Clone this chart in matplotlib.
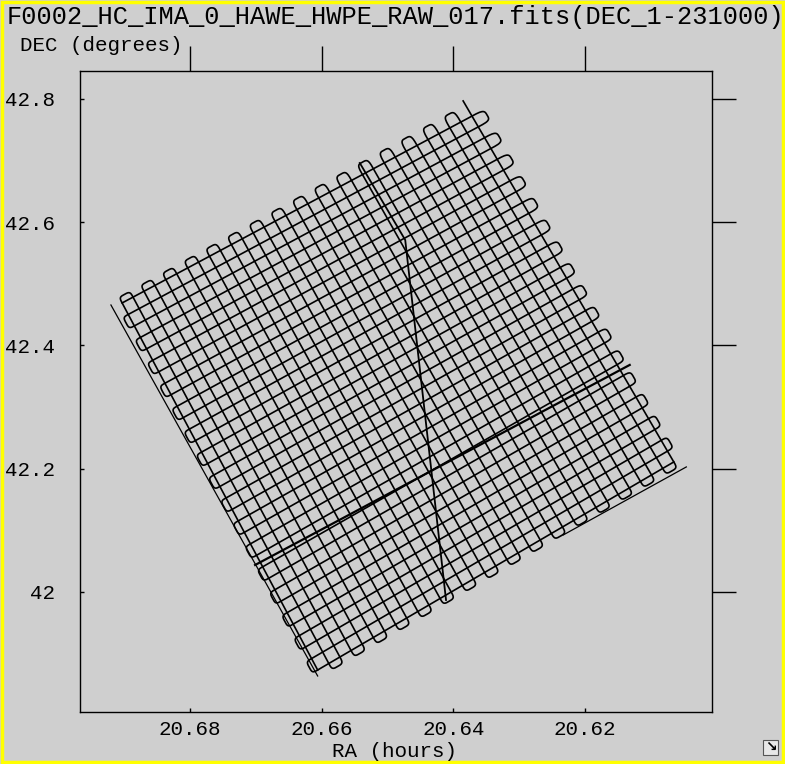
import numpy as np
import matplotlib.pyplot as plt
from matplotlib.patches import Rectangle

# scan box corners (RA hours, DEC degrees)
corner_tl = (20.6903, 42.4690)
corner_top = (20.6372, 42.7720)
corner_right = (20.6065, 42.2110)
corner_bottom = (20.6606, 41.8734)
first_b_start = (20.6385, 42.7968)   # free start of the first steep leg

# number of legs in each raster and turn-around sizes (fraction of leg length)
n_legs_a = 33          # shallow legs, turn at left / right side
n_legs_b = 33          # steep legs, turn at upper-left / lower-right side
turn_a_left = [0.015, 0.015]
turn_a_right = [0.035, 0.015]
turn_b_top = [0.015, 0.032]
turn_b_bottom = [0.017, 0.017]

# single straight tracks
outer_left_ra = [20.6920, 20.6606]
outer_left_dec = [42.4657, 41.8637]
outer_right_ra = [20.6046, 20.6233]
outer_right_dec = [42.2029, 42.0925]
mid_a_ra = [20.6701, 20.6132]
mid_a_dec = [42.0438, 42.3684]
mid_b_ra = [20.6542, 20.6473, 20.6411]
mid_b_dec = [42.6961, 42.5712, 41.9870]

ra_ticks = [20.68, 20.66, 20.64, 20.62]
dec_ticks = [42.0, 42.2, 42.4, 42.6, 42.8]
dec_labels = ["42", "42.2", "42.4", "42.6", "42.8"]

title = "F0002_HC_IMA_0_HAWE_HWPE_RAW_017.fits(DEC_1-231000)"


def cap(p, q, out, n=24):
    c = (p + q) / 2
    h = (q - p) / 2
    th = np.linspace(0, np.pi, n)
    f = np.sign(np.cos(th)) * np.abs(np.cos(th)) ** 0.5
    g = np.abs(np.sin(th)) ** 0.5
    return c[None, :] - f[:, None] * h[None, :] + g[:, None] * out[None, :]


def raster(s0, s1, e0, e1, n, ext_s, ext_e, first=None):
    s0, s1, e0, e1 = map(np.asarray, (s0, s1, e0, e1))
    t = np.linspace(0, 1, n)
    starts = s0 + t[:, None] * (s1 - s0)
    ends = e0 + t[:, None] * (e1 - e0)
    xs = np.interp(t, [0, 1], ext_s)
    xe = np.interp(t, [0, 1], ext_e)
    pts = []
    for i in range(n):
        a, b = (starts[i], ends[i]) if i % 2 == 0 else (ends[i], starts[i])
        if i == 0 and first is not None:
            a = np.asarray(first)
        pts.append(np.array([a, b]))
        if i < n - 1:
            if i % 2 == 0:
                p, q = ends[i], ends[i + 1]
                out = (ends[i] - starts[i]) * xe[i]
            else:
                p, q = starts[i], starts[i + 1]
                out = (starts[i] - ends[i]) * xs[i]
            pts.append(cap(p, q, out))
    return np.vstack(pts)


bg = "#cfcfcf"
fig = plt.figure(figsize=(7.85, 7.64), dpi=100, facecolor=bg)
ax = fig.add_axes([0.1019, 0.0681, 0.8051, 0.8390], facecolor=bg)

path_a = raster(corner_tl, corner_bottom, corner_top, corner_right,
                n_legs_a, turn_a_left, turn_a_right)
path_b = raster(corner_top, corner_tl, corner_right, corner_bottom,
                n_legs_b, turn_b_top[::-1], turn_b_bottom, first=first_b_start)
ax.plot(path_a[:, 0], path_a[:, 1], color="black", lw=1.2)
ax.plot(path_b[:, 0], path_b[:, 1], color="black", lw=1.2)
ax.plot(outer_left_ra, outer_left_dec, color="black", lw=0.9)
ax.plot(outer_right_ra, outer_right_dec, color="black", lw=0.9)
ax.plot(mid_a_ra, mid_a_dec, color="black", lw=1.6)
ax.plot(mid_b_ra, mid_b_dec, color="black", lw=1.3)

ax.set_xlim(20.6967, 20.6007)
ax.set_ylim(41.8053, 42.8454)

mono = "Liberation Mono"
ax.set_xticks(ra_ticks)
ax.set_xticklabels([f"{v:.2f}" for v in ra_ticks], family=mono, fontsize=15)
ax.set_yticks(dec_ticks)
ax.set_yticklabels(dec_labels, family=mono, fontsize=15)
ax.tick_params(axis="both", which="both", direction="in", length=3, width=1,
               labeltop=False, labelright=False)
ax.tick_params(axis="y", pad=18)
ax.tick_params(axis="x", pad=6)
ax.tick_params(axis="x", which="major", top=True, labeltop=False)
ax.tick_params(axis="y", which="major", right=True, labelright=False)
for t in ax.xaxis.get_major_ticks():
    t.tick2line.set_marker(2)  # upward tick above the frame
    t.tick2line.set_markersize(18)
for t in ax.yaxis.get_major_ticks():
    t.tick2line.set_marker(1)  # rightward tick outside the frame
    t.tick2line.set_markersize(17)
for s in ax.spines.values():
    s.set_linewidth(1.0)

fig.text(0.008, 0.978, title, family=mono, fontsize=18.3, va="center", ha="left")
fig.text(0.025, 0.94, "DEC (degrees)", family=mono, fontsize=15, va="center")
fig.text(0.503, 0.016, "RA (hours)", family=mono, fontsize=15, ha="center", va="center")

fig.patches.append(Rectangle((0.002, 0.003), 0.995, 0.994, transform=fig.transFigure,
                             fill=False, edgecolor="#ffff00", lw=2.5))
fig.patches.append(Rectangle((0.972, 0.012), 0.019, 0.02, transform=fig.transFigure,
                             facecolor="#e8e8e8", edgecolor="#555555", lw=0.8))
fig.text(0.9815, 0.022, "\u2198", fontsize=10, ha="center", va="center", weight="bold")

fig.savefig("out.png", dpi=100, facecolor=bg)
